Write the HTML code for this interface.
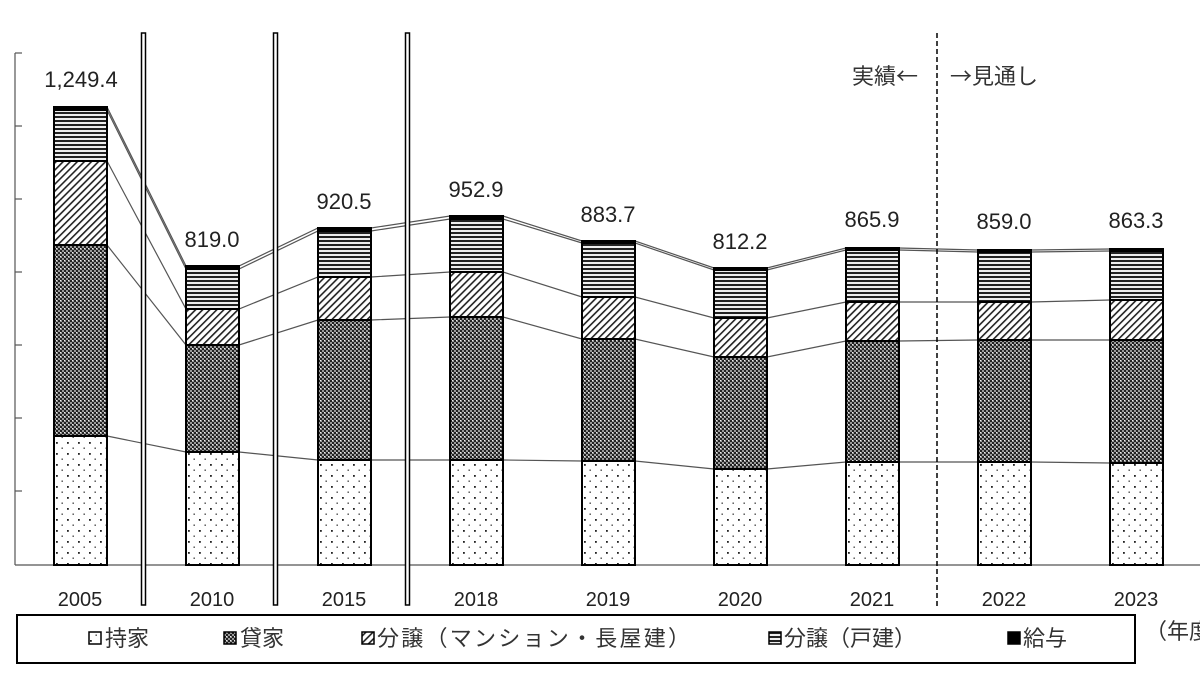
<!DOCTYPE html>
<html><head><meta charset="utf-8"><style>
body{margin:0;background:#fff;}
svg{display:block;font-family:"Liberation Sans","Noto Sans CJK JP",sans-serif;}
.cjk{font-family:"Noto Sans CJK JP","Liberation Sans",sans-serif;}
</style></head><body>
<svg width="1200" height="675" viewBox="0 0 1200 675" xmlns="http://www.w3.org/2000/svg">
<defs>
<pattern id="dots" width="11" height="11" patternUnits="userSpaceOnUse">
<rect width="11" height="11" fill="#fff"/><rect x="2" y="2" width="1.8" height="1.8" fill="#222"/><rect x="7.5" y="7.5" width="1.4" height="1.4" fill="#444"/></pattern>
<pattern id="check" width="4" height="4" patternUnits="userSpaceOnUse">
<rect width="4" height="4" fill="#999"/><rect width="2" height="2" fill="#222"/><rect x="2" y="2" width="2" height="2" fill="#222"/><rect x="2" y="0" width="1" height="1" fill="#eee"/></pattern>
<pattern id="diag" width="5" height="5" patternUnits="userSpaceOnUse" patternTransform="rotate(45)">
<rect width="5" height="5" fill="#fff"/><rect width="1.6" height="5" fill="#222"/></pattern>
<pattern id="hstr" width="4" height="4" patternUnits="userSpaceOnUse">
<rect width="4" height="4" fill="#eee"/><rect width="4" height="2" fill="#222"/></pattern>
</defs>
<g stroke="#555" stroke-width="1.2">
<line x1="15" y1="53" x2="15" y2="565"/><line x1="15" y1="565" x2="1200" y2="565"/>
<line x1="15" y1="53" x2="22" y2="53"/><line x1="15" y1="126" x2="22" y2="126"/><line x1="15" y1="199" x2="22" y2="199"/><line x1="15" y1="272" x2="22" y2="272"/><line x1="15" y1="345" x2="22" y2="345"/><line x1="15" y1="418" x2="22" y2="418"/><line x1="15" y1="491" x2="22" y2="491"/>
</g>
<g stroke="#555" stroke-width="1.2" fill="none">
<polyline points="107,107 186,266 239,266 318,228 371,228 450,216 503,216 582,241 635,241 714,268 767,268 846,248 899,248 978,250 1031,250 1110,249"/>
<polyline points="107,110 186,269 239,269 318,231 371,231 450,219 503,219 582,243 635,243 714,270 767,270 846,250 899,250 978,252 1031,252 1110,251"/>
<polyline points="107,161 186,309 239,309 318,277 371,277 450,272 503,272 582,297 635,297 714,318 767,318 846,302 899,302 978,302 1031,302 1110,300"/>
<polyline points="107,245 186,345 239,345 318,320 371,320 450,317 503,317 582,339 635,339 714,357 767,357 846,341 899,341 978,340 1031,340 1110,340"/>
<polyline points="107,436 186,452 239,452 318,460 371,460 450,460 503,460 582,461 635,461 714,469 767,469 846,462 899,462 978,462 1031,462 1110,463"/>
</g>
<g stroke="#000" stroke-width="2">
<g transform="translate(54,0)"><rect y="436" width="53" height="129" fill="url(#dots)"/><rect y="245" width="53" height="191" fill="url(#check)"/><rect y="161" width="53" height="84" fill="url(#diag)"/><rect y="110" width="53" height="51" fill="url(#hstr)"/><rect y="107" width="53" height="3" fill="#000"/></g>
<g transform="translate(186,0)"><rect y="452" width="53" height="113" fill="url(#dots)"/><rect y="345" width="53" height="107" fill="url(#check)"/><rect y="309" width="53" height="36" fill="url(#diag)"/><rect y="269" width="53" height="40" fill="url(#hstr)"/><rect y="266" width="53" height="3" fill="#000"/></g>
<g transform="translate(318,0)"><rect y="460" width="53" height="105" fill="url(#dots)"/><rect y="320" width="53" height="140" fill="url(#check)"/><rect y="277" width="53" height="43" fill="url(#diag)"/><rect y="231" width="53" height="46" fill="url(#hstr)"/><rect y="228" width="53" height="3" fill="#000"/></g>
<g transform="translate(450,0)"><rect y="460" width="53" height="105" fill="url(#dots)"/><rect y="317" width="53" height="143" fill="url(#check)"/><rect y="272" width="53" height="45" fill="url(#diag)"/><rect y="219" width="53" height="53" fill="url(#hstr)"/><rect y="216" width="53" height="3" fill="#000"/></g>
<g transform="translate(582,0)"><rect y="461" width="53" height="104" fill="url(#dots)"/><rect y="339" width="53" height="122" fill="url(#check)"/><rect y="297" width="53" height="42" fill="url(#diag)"/><rect y="243" width="53" height="54" fill="url(#hstr)"/><rect y="241" width="53" height="2" fill="#000"/></g>
<g transform="translate(714,0)"><rect y="469" width="53" height="96" fill="url(#dots)"/><rect y="357" width="53" height="112" fill="url(#check)"/><rect y="318" width="53" height="39" fill="url(#diag)"/><rect y="270" width="53" height="48" fill="url(#hstr)"/><rect y="268" width="53" height="2" fill="#000"/></g>
<g transform="translate(846,0)"><rect y="462" width="53" height="103" fill="url(#dots)"/><rect y="341" width="53" height="121" fill="url(#check)"/><rect y="302" width="53" height="39" fill="url(#diag)"/><rect y="250" width="53" height="52" fill="url(#hstr)"/><rect y="248" width="53" height="2" fill="#000"/></g>
<g transform="translate(978,0)"><rect y="462" width="53" height="103" fill="url(#dots)"/><rect y="340" width="53" height="122" fill="url(#check)"/><rect y="302" width="53" height="38" fill="url(#diag)"/><rect y="252" width="53" height="50" fill="url(#hstr)"/><rect y="250" width="53" height="2" fill="#000"/></g>
<g transform="translate(1110,0)"><rect y="463" width="53" height="102" fill="url(#dots)"/><rect y="340" width="53" height="123" fill="url(#check)"/><rect y="300" width="53" height="40" fill="url(#diag)"/><rect y="251" width="53" height="49" fill="url(#hstr)"/><rect y="249" width="53" height="2" fill="#000"/></g>
</g>
<g fill="#fff" stroke="#000" stroke-width="1.5">
<rect x="141.5" y="33" width="4" height="572"/><rect x="273.5" y="33" width="4" height="572"/><rect x="405.5" y="33" width="4" height="572"/>
</g>
<line x1="937" y1="33" x2="937" y2="608" stroke="#000" stroke-width="1.5" stroke-dasharray="5,3"/>
<g font-size="22" fill="#222" text-anchor="middle">
<text x="81" y="87">1,249.4</text><text x="212" y="247">819.0</text><text x="344" y="209">920.5</text><text x="476" y="197">952.9</text><text x="608" y="222">883.7</text><text x="740" y="249">812.2</text><text x="872" y="227">865.9</text><text x="1004" y="229">859.0</text><text x="1136" y="228">863.3</text>
</g>
<g font-size="22" fill="#333" class="cjk"><text x="852" y="84">実績←</text><text x="950" y="84">→見通し</text></g>
<g font-size="20" fill="#222" text-anchor="middle">
<text x="80" y="606">2005</text><text x="212" y="606">2010</text><text x="344" y="606">2015</text><text x="476" y="606">2018</text><text x="608" y="606">2019</text><text x="740" y="606">2020</text><text x="872" y="606">2021</text><text x="1004" y="606">2022</text><text x="1136" y="606">2023</text>
</g>
<text x="1145" y="639" font-size="22" fill="#333" class="cjk">（年度</text>
<rect x="17" y="615" width="1118" height="48" fill="#fff" stroke="#000" stroke-width="2"/>
<g stroke="#000" stroke-width="1.5">
<rect x="89" y="632" width="12" height="12" fill="url(#dots)"/>
<rect x="224" y="632" width="12" height="12" fill="url(#check)"/>
<rect x="362" y="632" width="12" height="12" fill="url(#diag)"/>
<rect x="769" y="632" width="12" height="12" fill="url(#hstr)"/>
<rect x="1008" y="632" width="12" height="12" fill="#000"/>
</g>
<g font-size="22" fill="#333" class="cjk">
<text x="105" y="646">持家</text><text x="240" y="646">貸家</text><text x="377" y="646" textLength="313">分譲（マンション・長屋建）</text><text x="784" y="646">分譲（戸建）</text><text x="1023" y="646">給与</text>
</g>
</svg>
</body></html>
